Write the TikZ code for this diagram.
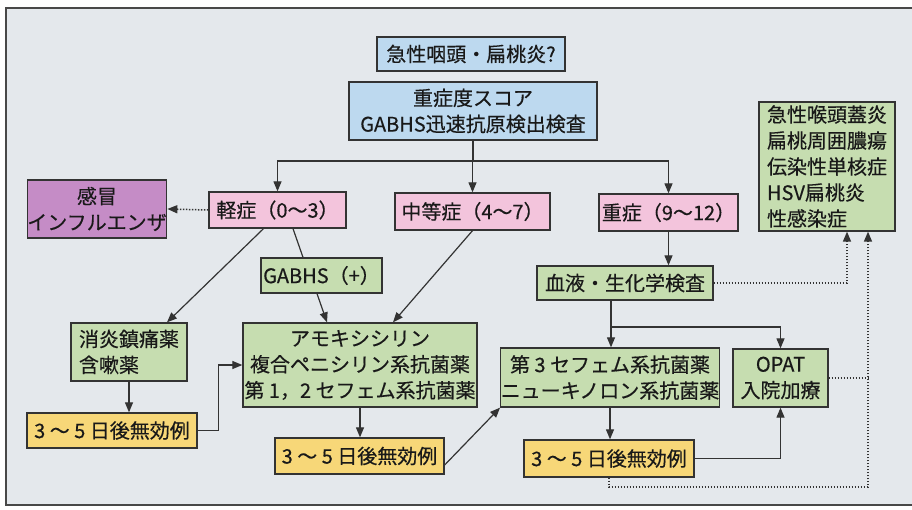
\documentclass[tikz,border=0pt]{standalone}
\usepackage{fontspec}
\setmainfont[FakeBold=0.4]{Noto Sans CJK JP}
\usetikzlibrary{arrows.meta,calc}
\definecolor{bgc}{HTML}{E4E8EC}
\definecolor{edge}{HTML}{333333}
\definecolor{cblue}{HTML}{BDD9EF}
\definecolor{cpink}{HTML}{F3C4DC}
\definecolor{cpurple}{HTML}{C58CC6}
\definecolor{cgreen}{HTML}{C6DDB0}
\definecolor{cyellow}{HTML}{F7D778}
\tikzset{
  box/.style={draw=edge, line width=1.3pt, inner sep=0pt, align=center,
    font=\fontsize{20}{26}\selectfont, text=black!90},
  bluebox/.style={box, fill=cblue},
  pinkbox/.style={box, fill=cpink},
  purplebox/.style={box, fill=cpurple},
  greenbox/.style={box, fill=cgreen},
  yellowbox/.style={box, fill=cyellow},
  conn/.style={draw=edge, line width=1.2pt},
  arr/.style={conn, -{Triangle[length=10pt,width=8pt]}},
  dotconn/.style={draw=edge, line width=1.5pt, dash pattern=on 1.5pt off 1.5pt},
  dotarr/.style={dotconn, -{Triangle[length=10pt,width=8pt]}},
}
\begin{document}
\begin{tikzpicture}[x=1pt,y=-1pt]
\useasboundingbox (0,0) rectangle (912,510);
\fill[white!96!bgc] (0,0) rectangle (912,510);
\draw[draw=edge!90, line width=1.5pt, fill=bgc] (6,8) rectangle (925,505);

% top
\node[bluebox, minimum width=188pt, minimum height=34pt] (title) at (471,54) {急性咽頭・扁桃炎?};
\node[bluebox, minimum width=248pt, minimum height=58pt] (score) at (473,111) {重症度スコア\\GABHS迅速抗原検出検査};

% severity
\node[pinkbox, minimum width=137pt, minimum height=36pt] (mild) at (277.5,210) {軽症（0～3）};
\node[pinkbox, minimum width=155pt, minimum height=37pt] (mod) at (472.5,211.5) {中等症（4～7）};
\node[pinkbox, minimum width=139pt, minimum height=37pt] (sev) at (668.5,212.5) {重症（9～12）};
\node[purplebox, minimum width=136pt, minimum height=58pt] (cold) at (97,209) {感冒\\インフルエンザ};

\node[greenbox, minimum width=121pt, minimum height=35pt] (gabhs) at (321.5,275.5) {GABHS（+）};
\node[greenbox, minimum width=176pt, minimum height=34pt] (blood) at (625,283) {血液・生化学検査};
\node[greenbox, minimum width=136pt, minimum height=129pt, align=left] (rbox) at (827,166.5) {急性喉頭蓋炎\\扁桃周囲膿瘍\\伝染性単核症\\HSV扁桃炎\\性感染症};

\node[greenbox, minimum width=116pt, minimum height=58pt, align=left] (nsaid) at (129,352) {消炎鎮痛薬\\含嗽薬};
\node[greenbox, minimum width=234pt, minimum height=84pt] (amox) at (360,365) {アモキシシリン\\複合ペニシリン系抗菌薬\\第 1，2 セフェム系抗菌薬};
\node[greenbox, minimum width=210pt, minimum height=59pt] (ceph) at (610,377.5) {第 3 セフェム系抗菌薬\\ニューキノロン系抗菌薬};
\node[greenbox, minimum width=95pt, minimum height=58pt] (opat) at (780.5,378) {OPAT\\入院加療};

\node[yellowbox, minimum width=170pt, minimum height=35pt] (fa) at (112,430.5) {3 ～ 5 日後無効例};
\node[yellowbox, minimum width=169pt, minimum height=36pt] (fb) at (359.5,456) {3 ～ 5 日後無効例};
\node[yellowbox, minimum width=170pt, minimum height=37pt] (fc) at (609,458.5) {3 ～ 5 日後無効例};

% connectors
\coordinate (hub) at (473,161);
\draw[conn] (score.south) -- (hub);
\draw[arr] (hub) -| (mild.north);
\draw[arr] (hub) -- (hub -| mod.north) -- (mod.north);
\draw[arr] (hub) -| (sev.north);

\draw[dotarr] (mild.west) -- (cold.east);
\draw[arr] ([xshift=-14pt]mild.south) -- ([xshift=38pt]nsaid.north);
\draw[conn] ([xshift=15.5pt]mild.south) -- ([xshift=-18.5pt]gabhs.north);
\draw[arr] ([xshift=-4.5pt]gabhs.south) -- ([xshift=-33pt]amox.north);
\draw[arr] (mod.south) -- ([xshift=33pt]amox.north);

\draw[arr] (sev.south) -- (sev.south |- blood.north);
\draw[dotarr] (blood.east) -| ([xshift=20pt]rbox.south);

\coordinate (split) at (611,327);
\draw[conn] (split |- blood.south) -- (split);
\draw[arr] (split) -- (split |- ceph.north);
\draw[arr] (split) -| (opat.north);

\draw[arr] (nsaid.south) -- (nsaid.south |- fa.north);
\draw[arr] (fa.east) -- ++(21,0) |- (amox.west);
\draw[arr] (amox.south) -- (amox.south |- fb.north);
\draw[arr] ([yshift=-9pt]fb.east) -- (ceph.south west);
\draw[arr] (ceph.south) -- (ceph.south |- fc.north);
\draw[arr] (fc.east) -| (opat.south);

\coordinate (dc) at (868,487);
\draw[dotarr] (fc.south) |- (dc) -- (dc |- rbox.south);
\draw[dotconn] (opat.east) -- (opat.east -| dc);
\end{tikzpicture}
\end{document}
